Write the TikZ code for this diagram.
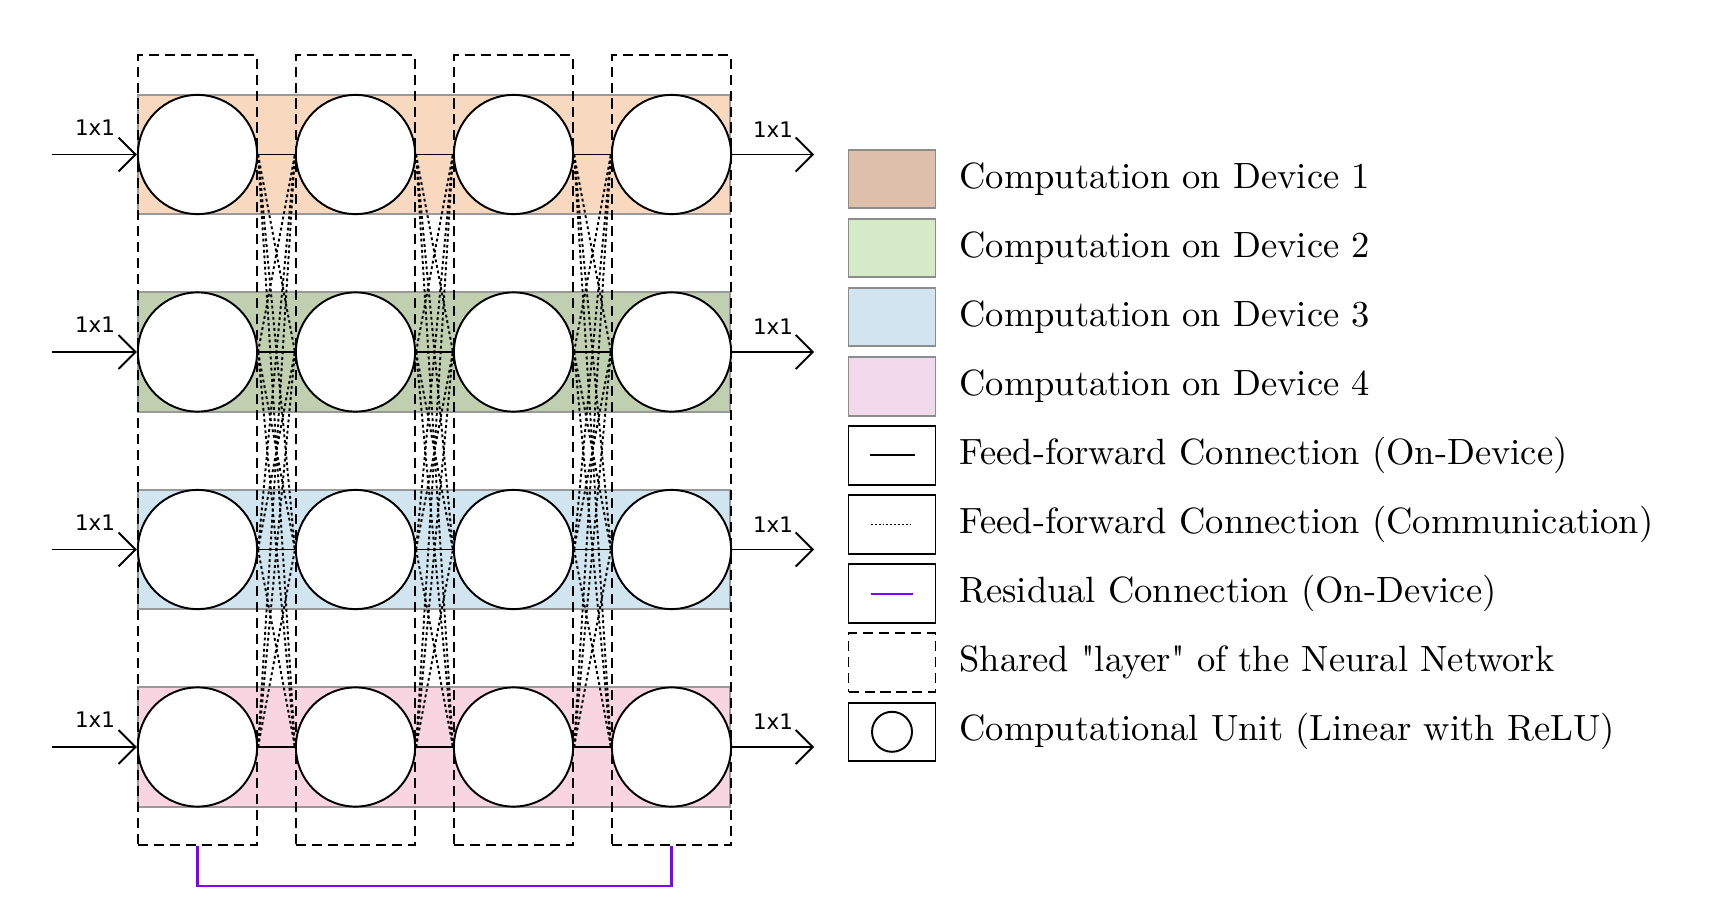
\documentclass[tikz,border=0pt]{standalone}
\usepackage{fontspec}
\newfontfamily\dimfont{DejaVu Sans}
\newfontfamily\keyfont{lmroman10-regular.otf}
\usepackage{tikz}
\usetikzlibrary{arrows.meta}

\definecolor{dev1}{HTML}{F9D8C0}
\definecolor{dev2}{HTML}{BFCFB0}
\definecolor{dev3}{HTML}{D1E5F0}
\definecolor{dev4}{HTML}{F9D5E2}
\definecolor{key1}{HTML}{DCC0AB}
\definecolor{key2}{HTML}{D6EBC8}
\definecolor{key3}{HTML}{D2E4EF}
\definecolor{key4}{HTML}{F0DAEC}
\definecolor{resid}{HTML}{7F00FF}

\begin{document}
\begin{tikzpicture}[x=0.02cm,y=-0.02cm,
	unit/.style={circle,draw,line width=1.1pt,fill=white,minimum size=2.384cm,inner sep=0pt},
	band/.style={draw=black!40,line width=1.1pt,minimum width=11.84cm,minimum height=2.384cm,inner sep=0pt},
	layerbox/.style={draw,line width=1.1pt,dash pattern=on 5.7pt off 3.4pt,minimum width=2.38cm,minimum height=15.8cm,inner sep=0pt},
	ff/.style={line width=1.1pt},
	comm/.style={line width=1.1pt,dash pattern=on 1.6pt off 1.6pt},
	residual/.style={draw=resid,line width=1.4pt},
	io/.style={line width=1.1pt,-{Straight Barb[length=0.34cm,width=0.68cm]}},
	dim/.style={font=\dimfont\fontsize{12.2}{14}\selectfont,inner sep=0pt},
	keybox/.style={draw,line width=1.1pt,minimum width=1.74cm,minimum height=1.17cm,inner sep=0pt},
	keytext/.style={anchor=west,inner sep=0pt,font=\keyfont\fontsize{20.8}{25}\selectfont}]
	\useasboundingbox (0,0) rectangle (1730,916);

	% one band per device
	\foreach \r/\y in {1/154.5,2/352,3/549.5,4/747}
	    \node[band,fill=dev\r] (band\r) at (434,\y) {};

	% shared layers
	\foreach \c/\x in {1/197.5,2/355.5,3/513.5,4/671.5}
	    \node[layerbox] (layer\c) at (\x,450) {};

	\foreach \r/\y in {1/154.5,2/352,3/549.5,4/747}
	    \foreach \c/\x in {1/197.5,2/355.5,3/513.5,4/671.5}
	        \node[unit] (u\r\c) at (\x,\y) {};

	% on-device
	\foreach \r in {1,...,4}
	    \foreach \c/\d in {1/2,2/3,3/4}
	        \draw[ff] (u\r\c) -- (u\r\d);

	% communication
	\foreach \c/\d in {1/2,2/3,3/4}
	    \foreach \r in {1,...,4}
	        \foreach \s in {1,...,4}{
	            \ifnum\r=\s\else\draw[comm] (u\r\c.east) -- (u\s\d.west);\fi
	        }

	\foreach \r/\y in {1/154.5,2/352,3/549.5,4/747}{
	    \coordinate (in\r) at (52,\y);
	    \coordinate (out\r) at (814,\y);
	    \draw[io] (in\r) -- (u\r1);
	    \draw[io] (u\r4) -- (out\r);
	    \node[dim] (lin\r) at (95,\y-27) {1x1};
	    \node[dim] (lout\r) at (773,\y-25) {1x1};
	}

	\draw[residual] (layer1.south) -- ++(0,40) -| (layer4.south);

	% legend
	\foreach \k/\y in {1/179,2/248.1,3/317.2,4/386.3}
	    \node[keybox,draw=black!45,fill=key\k] (key\k) at (892,\y) {};
	\node[keybox] (key5) at (892,455.4) {};
	\node[keybox] (key6) at (892,524.5) {};
	\node[keybox] (key7) at (892,593.6) {};
	\node[keybox,dash pattern=on 5.7pt off 3.4pt] (key8) at (892,662.7) {};
	\node[keybox] (key9) at (892,731.8) {};
	\draw[ff] ([xshift=-0.45cm]key5.center) -- ([xshift=0.45cm]key5.center);
	\draw[comm,line width=0.8pt,dash pattern=on 1pt off 1.2pt] ([xshift=-0.42cm]key6.center) -- ([xshift=0.42cm]key6.center);
	\draw[residual,line width=1.1pt] ([xshift=-0.42cm]key7.center) -- ([xshift=0.42cm]key7.center);
	\node[circle,draw,line width=1.1pt,minimum size=0.8cm,inner sep=0pt] (keyunit) at (key9) {};

	\node[keytext] (t1) at (959,179) {Computation on Device 1};
	\node[keytext] (t2) at (959,248.1) {Computation on Device 2};
	\node[keytext] (t3) at (959,317.2) {Computation on Device 3};
	\node[keytext] (t4) at (959,386.3) {Computation on Device 4};
	\node[keytext] (t5) at (959,455.4) {Feed-forward Connection (On-Device)};
	\node[keytext] (t6) at (959,524.5) {Feed-forward Connection (Communication)};
	\node[keytext] (t7) at (959,593.6) {Residual Connection (On-Device)};
	\node[keytext] (t8) at (959,662.7) {Shared "layer" of the Neural Network};
	\node[keytext] (t9) at (959,731.8) {Computational Unit (Linear with ReLU)};
\end{tikzpicture}
\end{document}
